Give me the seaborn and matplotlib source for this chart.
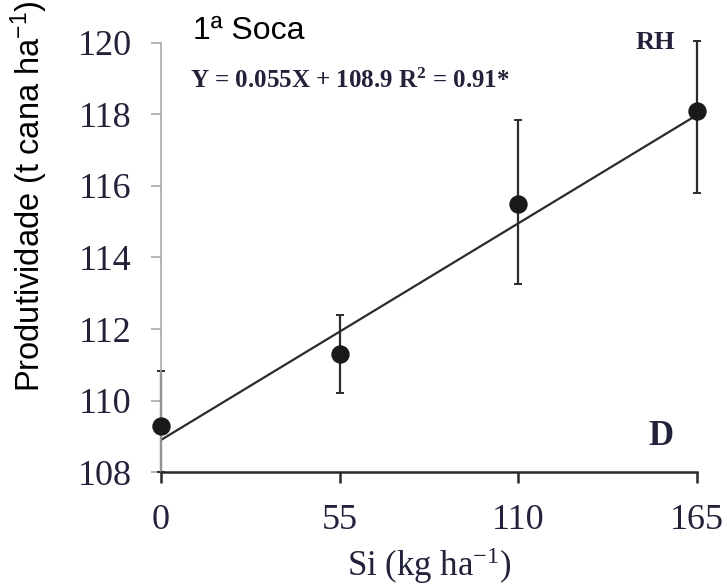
import matplotlib
matplotlib.use("Agg")
import matplotlib.pyplot as plt
import numpy as np
import pandas as pd
import seaborn as sns

# Data
si_doses = [0, 55, 110, 165]
productivity = [109.3, 111.3, 115.5, 118.1]
err_low = [109.3 - 108.0, 111.3 - 110.2, 115.5 - 113.25, 118.1 - 115.8]
err_high = [110.83 - 109.3, 112.38 - 111.3, 117.85 - 115.5, 120.05 - 118.1]
slope, intercept = 0.055, 108.9
x_ticks = [0, 55, 110, 165]
y_ticks = [108, 110, 112, 114, 116, 118, 120]

df = pd.DataFrame({"si": si_doses, "prod": productivity})
fit = pd.DataFrame({"si": [0, 165]})
fit["prod"] = intercept + slope * fit["si"]

sns.set_style("white")
serif = ["Liberation Serif", "DejaVu Serif"]
sans = ["Liberation Sans", "DejaVu Sans"]
plt.rcParams["mathtext.default"] = "regular"
tick_color = "#22223a"

fig = plt.figure(figsize=(7.27, 5.88), dpi=100)
ax = fig.add_axes([0.2215, 0.197, 0.7368, 0.7304])

sns.lineplot(data=fit, x="si", y="prod", ax=ax, color="#2b2b2b", linewidth=1.6)
ax.errorbar(si_doses, productivity, yerr=[err_low, err_high], fmt="none",
            ecolor="#2b2b2b", elinewidth=1.6, capsize=3, capthick=1.4, clip_on=False)
sns.scatterplot(data=df, x="si", y="prod", ax=ax, color="#1a1a1a", s=150,
                edgecolor="#1a1a1a", zorder=5, clip_on=False)

ax.set_xlim(0, 165)
ax.set_ylim(108, 120)
ax.set_xticks(x_ticks)
ax.set_yticks(y_ticks)
ax.set_xticklabels([str(t) for t in x_ticks], family=serif, fontsize=26, color=tick_color)
ax.set_yticklabels([str(t) for t in y_ticks], family=serif, fontsize=26, color=tick_color)

for side in ["top", "right"]:
    ax.spines[side].set_visible(False)
ax.spines["left"].set_color("#a8a8a8")
ax.spines["left"].set_linewidth(1.2)
ax.spines["bottom"].set_color("#2b2b2b")
ax.spines["bottom"].set_linewidth(1.8)
ax.tick_params(axis="y", direction="out", length=7, width=1.2, color="#a8a8a8", pad=14, left=True)
ax.tick_params(axis="x", direction="out", length=8, width=1.8, color="#2b2b2b", pad=15, bottom=True)

ax.set_xlabel(r"Si (kg ha$^{-1}$)", family=serif, fontsize=25, color=tick_color)
ax.xaxis.set_label_coords(0.5, -0.17)
ax.set_ylabel(r"Produtividade (t cana ha$^{-1}$)", family=sans, fontsize=23.5, color="black")
ax.yaxis.set_label_coords(-0.207, 0.643)

fig.text(0.266, 0.934, "1ª Soca", family=sans, fontsize=23, color="black")
ax.text(0.055, 0.894, r"Y = 0.055X + 108.9 R$^{2}$ = 0.91*", transform=ax.transAxes,
        family=serif, fontsize=18, fontweight="bold", color=tick_color)
ax.text(0.885, 0.985, "RH", transform=ax.transAxes, family=serif, fontsize=19,
        fontweight="bold", color=tick_color)
ax.text(0.909, 0.063, "D", transform=ax.transAxes, family=serif, fontsize=25,
        fontweight="bold", color=tick_color)

fig.savefig("out.png", dpi=100)
